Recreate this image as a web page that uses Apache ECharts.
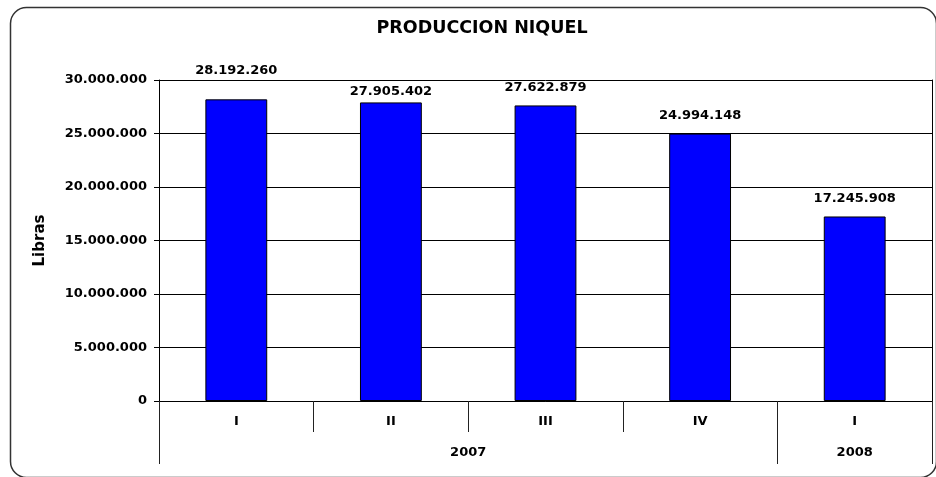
<!DOCTYPE html>
<html>
<head>
<meta charset="utf-8">
<script src="https://cdn.jsdelivr.net/npm/echarts@6/dist/echarts.min.js"></script>
<style>html,body{margin:0;padding:0;background:#fff}#c{width:936px;height:477px}</style>
</head>
<body>
<div id="c"></div>
<script>
var title = 'PRODUCCION NIQUEL';
var yName = 'Libras';
var quarters = ['I', 'II', 'III', 'IV', 'I'];
var yearSlots = ['', '', '', '', '2007', '', '', '', '', '2008', ''];
var yearBoundarySlots = [0, 8, 10];
var values = [28192260, 27905402, 27622879, 24994148, 17245908];
var labelGaps = [22, 4, 11, 11, 11];

function fmt(v) {
  return String(Math.round(v)).replace(/\B(?=(\d{3})+(?!\d))/g, '.');
}
var FONT = '"DejaVu Sans", sans-serif';
var chart = echarts.init(document.getElementById('c'));
chart.setOption({
  animation: false,
  backgroundColor: '#fff',
  textStyle: { fontFamily: FONT },
  title: {
    text: title, left: 477, top: 14, textAlign: 'center',
    textStyle: { fontSize: 17.5, fontWeight: 'bold', color: '#000', fontFamily: FONT }
  },
  graphic: [{
    type: 'rect', left: 8, top: 5, z: -1,
    shape: { width: 926, height: 470, r: 16 },
    style: { fill: 'none', stroke: '#333', lineWidth: 1.5 }
  }],
  grid: { left: 159, right: 4, top: 80, bottom: 76, containLabel: false },
  xAxis: [{
    type: 'category', data: quarters, position: 'bottom', offset: 0,
    axisLine: { show: true, lineStyle: { color: '#000', width: 1 } },
    axisTick: { show: true, length: 31, lineStyle: { color: '#222', width: 1 } },
    axisLabel: { margin: 14, fontSize: 13, fontWeight: 'bold', color: '#000', fontFamily: FONT }
  }, {
    type: 'category', data: yearSlots, position: 'bottom', offset: 0, boundaryGap: false,
    axisLine: { show: false },
    axisTick: { show: true, length: 63, interval: function (i) { return yearBoundarySlots.indexOf(i) >= 0; }, lineStyle: { color: '#222', width: 1 } },
    axisLabel: { interval: 0, margin: 45, fontSize: 13, fontWeight: 'bold', color: '#000', fontFamily: FONT }
  }],
  yAxis: [{
    type: 'value', min: 0, max: 30000000, interval: 5000000,
    name: yName, nameLocation: 'middle', nameGap: 111, nameRotate: 90,
    nameTextStyle: { fontSize: 15, fontWeight: 'bold', color: '#000', fontFamily: FONT },
    axisLine: { show: true, lineStyle: { color: '#000', width: 1 } },
    axisTick: { show: true, length: 5, lineStyle: { color: '#000' } },
    splitLine: { show: true, lineStyle: { color: '#000', width: 1 } },
    axisLabel: { margin: 12, fontSize: 13, fontWeight: 'bold', color: '#000', fontFamily: FONT, formatter: fmt }
  }, {
    type: 'value', position: 'right', min: 0, max: 30000000, interval: 5000000,
    axisLine: { show: true, lineStyle: { color: '#000', width: 1 } },
    axisTick: { show: false }, axisLabel: { show: false }, splitLine: { show: false }
  }],
  series: [{
    type: 'bar', xAxisIndex: 0, yAxisIndex: 0, barWidth: '40%',
    data: values.map(function (v, i) {
      return { value: v, label: { distance: labelGaps[i] } };
    }),
    itemStyle: { color: '#0000FF', borderColor: '#000', borderWidth: 1 },
    label: {
      show: true, position: 'top', fontSize: 13, fontWeight: 'bold', color: '#000', fontFamily: FONT,
      formatter: function (p) { return fmt(p.value); }
    }
  }]
});
</script>
</body>
</html>
